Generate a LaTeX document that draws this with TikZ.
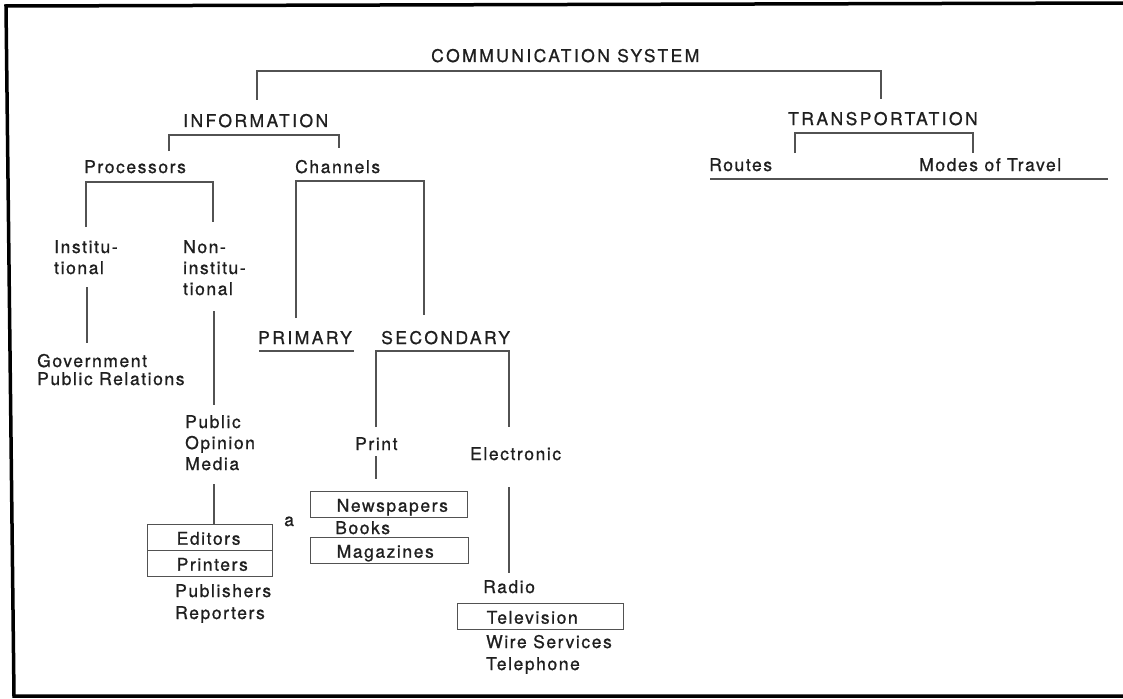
\documentclass[tikz,border=0pt]{standalone}
\usepackage{fontspec}
\setmainfont{TeX Gyre Heros}[LetterSpace=9, FakeBold=0.9]
\newfontfamily\capsfont{TeX Gyre Heros}[LetterSpace=14, FakeBold=0.9]
\newcommand{\inbox}[3]{\makebox[#1pt][l]{\hspace*{#2pt}#3}}
\newcommand{\stack}[1]{\begin{tabular}[t]{@{}l@{}}#1\end{tabular}}

\tikzset{
  lbl/.style={anchor=base west, inner sep=0pt, text=black!88},
  head/.style={lbl, font=\fontsize{17.5}{21}\selectfont\capsfont},
  link/.style={draw=black!68, line width=1.4pt},
  boxed/.style={draw=black!68, line width=1.4pt, anchor=north west,
    inner xsep=0pt, inner ysep=0pt, text height=16pt, text depth=2pt,
    minimum height=26pt, text=black!88},
  frame/.style={draw=black, line width=3.5pt, line join=miter}
}

\begin{document}
\begin{tikzpicture}[x=1pt, y=-1pt, font=\fontsize{17.5}{21}\selectfont]
\useasboundingbox (0,0) rectangle (1123,698);

% outer frame (open on the right)
\draw[frame] (1130,3) -- (6,6) -- (14,696) -- (1130,696);

% headings
\node[head] (comm) at (431,62) {COMMUNICATION SYSTEM};
\node[head] (info) at (183,127) {INFORMATION};
\node[head] (trans) at (788,125) {TRANSPORTATION};
\node[head] (primary) at (258,344) {PRIMARY};
\node[head] (secondary) at (381,344) {SECONDARY};

% labels
\node[lbl] (proc) at (84,173) {Processors};
\node[lbl] (chan) at (295,173) {Channels};
\node[lbl] (routes) at (709,171) {Routes};
\node[lbl] (modes) at (919,171) {Modes of Travel};
\node[lbl] (inst) at (54,253) {\stack{Institu-\\tional}};
\node[lbl] (noninst) at (183,253) {\stack{Non-\\institu-\\tional}};
\node[lbl] (govt) at (37,367) {\stack{Government\\[-3pt]Public Relations}};
\node[lbl] (pom) at (185,428) {\stack{Public\\Opinion\\Media}};
\node[lbl] (print) at (355,450) {Print};
\node[lbl] (elec) at (470,460) {Electronic};
\node[lbl] (books) at (335,534) {Books};
\node[lbl] (a) at (284,526) {a};
\node[lbl] (pubrep) at (175,597) {\stack{Publishers\\[1pt]Reporters}};
\node[lbl] (radio) at (483,593) {Radio};
\node[lbl] (wire) at (486,648) {\stack{Wire Services\\[1pt]Telephone}};

% boxed items
\node[boxed] (editors) at (147,524) {\inbox{125}{29}{Editors}};
\node[boxed] (printers) at (147,550) {\inbox{125}{29}{Printers}};
\node[boxed] (newsp) at (310,491) {\inbox{157}{26}{Newspapers}};
\node[boxed] (mags) at (310,537) {\inbox{158}{26}{Magazines}};
\node[boxed] (tv) at (457,603) {\inbox{166}{29}{Television}};

% bracket ends
\coordinate (c-l) at (257,100);  \coordinate (c-bar) at (566,71);  \coordinate (c-r) at (881,99);
\coordinate (i-l) at (169,151);  \coordinate (i-bar) at (255,135); \coordinate (i-r) at (339,148);
\coordinate (t-l) at (795,153);  \coordinate (t-bar) at (880,133); \coordinate (t-r) at (973,153);
\coordinate (p-l) at (86,227);   \coordinate (p-bar) at (150,182); \coordinate (p-r) at (213,222);
\coordinate (ch-l) at (296,318); \coordinate (ch-bar) at (360,181);\coordinate (ch-r) at (424,315);
\coordinate (s-l) at (376,427);  \coordinate (s-bar) at (443,351); \coordinate (s-r) at (509,427);
\coordinate (rm-l) at (710,179); \coordinate (rm-r) at (1108,179);
\coordinate (pr-l) at (259,351); \coordinate (pr-r) at (354,351);
\coordinate (in-t) at (87,287);  \coordinate (in-b) at (87,343);
\coordinate (ni-t) at (214,311); \coordinate (ni-b) at (214,405);
\coordinate (pt-t) at (376,456); \coordinate (pt-b) at (376,479);
\coordinate (el-t) at (509,487); \coordinate (el-b) at (509,573);
\coordinate (md-t) at (214,484);

% connectors
\draw[link] (c-l) |- (c-bar) -| (c-r);
\draw[link] (i-l) |- (i-bar) -| (i-r);
\draw[link] (t-l) |- (t-bar) -| (t-r);
\draw[link] (p-l) |- (p-bar) -| (p-r);
\draw[link] (ch-l) |- (ch-bar) -| (ch-r);
\draw[link] (s-l) |- (s-bar) -| (s-r);
\draw[link] (rm-l) -- (rm-r);
\draw[link] (pr-l) -- (pr-r);
\draw[link] (in-t) -- (in-b);
\draw[link] (ni-t) -- (ni-b);
\draw[link] (pt-t) -- (pt-b);
\draw[link] (el-t) -- (el-b);
\draw[link] (md-t) -- (md-t |- editors.north);
\end{tikzpicture}
\end{document}
